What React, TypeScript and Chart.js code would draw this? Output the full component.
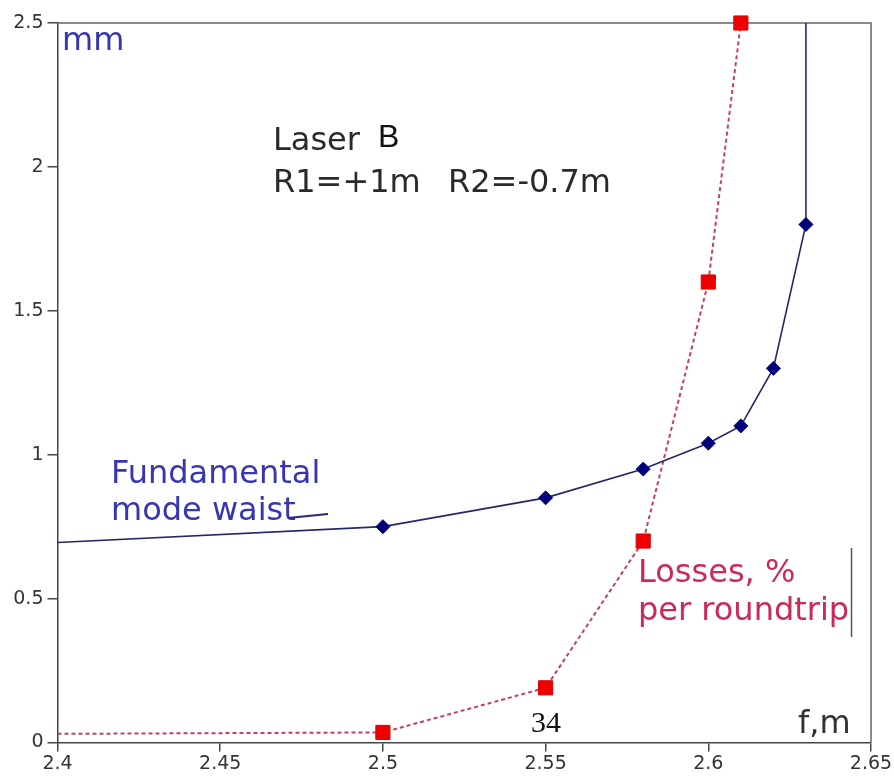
import React, { useEffect, useRef } from "react";
import { Chart, registerables } from "chart.js";

Chart.register(...registerables);

// Focal length f, m
const waistF = [2.4, 2.5, 2.55, 2.58, 2.6, 2.61, 2.62, 2.63, 2.63];
// Fundamental mode waist, mm
const waistMm = [0.695, 0.75, 0.85, 0.95, 1.04, 1.1, 1.3, 1.8, 2.5];
const waistMarker = [false, true, true, true, true, true, true, true, false];

const lossF = [2.4, 2.5, 2.55, 2.58, 2.6, 2.61];
// Losses, % per roundtrip
const lossPct = [0.03, 0.035, 0.19, 0.7, 1.6, 2.5];
const lossMarker = [false, true, true, true, true, true];

const xTicks = [2.4, 2.45, 2.5, 2.55, 2.6, 2.65];
const yTicks = [0, 0.5, 1, 1.5, 2, 2.5];

const SANS = "'DejaVu Sans', sans-serif";

const overlayPlugin = {
  id: "overlay",
  beforeDatasetsDraw(chart: any) {
    const { ctx, chartArea } = chart;
    ctx.save();
    ctx.strokeStyle = "#666";
    ctx.lineWidth = 1.5;
    ctx.beginPath();
    ctx.moveTo(chartArea.left, chartArea.top);
    ctx.lineTo(chartArea.right, chartArea.top);
    ctx.lineTo(chartArea.right, chartArea.bottom);
    ctx.stroke();
    ctx.restore();
  },
  afterDraw(chart: any) {
    const { ctx } = chart;
    ctx.save();
    ctx.textBaseline = "alphabetic";
    ctx.textAlign = "left";
    const t = (s: string, x: number, y: number, font: string, color: string) => {
      ctx.font = font;
      ctx.fillStyle = color;
      ctx.fillText(s, x, y);
    };
    const blue = "#3636b4";
    const crimson = "#cc2a55";
    t("mm", 62, 50, `32px ${SANS}`, blue);
    t("Laser", 273, 150, `32px ${SANS}`, "#2a2a2a");
    t("B", 378, 147, "32px 'Liberation Sans', sans-serif", "#111");
    t("R1=+1m", 273, 192, `32px ${SANS}`, "#2a2a2a");
    t("R2=-0.7m", 448, 192, `32px ${SANS}`, "#2a2a2a");
    t("Fundamental", 111, 483, `32px ${SANS}`, blue);
    t("mode waist", 111, 520, `32px ${SANS}`, blue);
    t("Losses, %", 638, 582, `32px ${SANS}`, crimson);
    t("per roundtrip", 638, 620, `32px ${SANS}`, crimson);
    t("34", 531, 732, "30px 'Liberation Serif', serif", "#111");
    t("f,m", 798, 733, `32px ${SANS}`, "#333");
    // underline stroke after "waist"
    ctx.strokeStyle = "#2a2a70";
    ctx.lineWidth = 2;
    ctx.beginPath();
    ctx.moveTo(288, 518);
    ctx.lineTo(328, 514);
    ctx.stroke();
    // vertical bar beside "roundtrip"
    ctx.strokeStyle = "#555";
    ctx.lineWidth = 1.5;
    ctx.beginPath();
    ctx.moveTo(851.5, 548);
    ctx.lineTo(851.5, 637);
    ctx.stroke();
    ctx.restore();
  },
};

export default function App() {
  const ref = useRef<HTMLCanvasElement | null>(null);
  useEffect(() => {
    if (!ref.current) return;
    const chart = new Chart(ref.current, {
      type: "scatter",
      data: {
        datasets: [
          {
            label: "Losses, % per roundtrip",
            data: lossF.map((x, i) => ({ x, y: lossPct[i] })),
            showLine: true,
            borderColor: "#c8405a",
            borderWidth: 2,
            borderDash: [4, 3],
            pointStyle: "rect",
            pointRadius: lossMarker.map((m) => (m ? 10 : 0)),
            pointBackgroundColor: "#ee0000",
            pointBorderColor: "#dd0000",
            pointBorderWidth: 1,
            clip: false as any,
            order: 1,
          },
          {
            label: "Fundamental mode waist",
            data: waistF.map((x, i) => ({ x, y: waistMm[i] })),
            showLine: true,
            borderColor: "#24276a",
            borderWidth: 1.6,
            pointStyle: "rectRot",
            pointRadius: waistMarker.map((m) => (m ? 7 : 0)),
            pointBackgroundColor: "#00007a",
            pointBorderColor: "#00007a",
            pointBorderWidth: 1,
            clip: false as any,
            order: 0,
          },
        ],
      },
      options: {
        responsive: false,
        animation: false,
        devicePixelRatio: 1,
        layout: { padding: { top: 23, right: 23, left: 0, bottom: 0 } },
        plugins: {
          legend: { display: false },
          tooltip: { enabled: false },
        },
        scales: {
          x: {
            type: "linear",
            min: 2.4,
            max: 2.65,
            afterBuildTicks: (scale: any) => {
              scale.ticks = xTicks.map((v) => ({ value: v }));
            },
            afterFit: (scale: any) => {
              scale.height = 37.5;
            },
            ticks: {
              callback: (v: any) => String(Number(Number(v).toFixed(2))),
              font: { family: SANS, size: 19 },
              color: "#333",
              padding: 1,
              maxRotation: 0,
              autoSkip: false,
            },
            grid: {
              display: true,
              drawOnChartArea: false,
              drawTicks: true,
              tickLength: 9,
              color: "#444",
              lineWidth: 1.5,
            },
            border: { display: true, color: "#444", width: 1.5 },
          },
          y: {
            type: "linear",
            min: 0,
            max: 2.5,
            afterBuildTicks: (scale: any) => {
              scale.ticks = yTicks.map((v) => ({ value: v }));
            },
            afterFit: (scale: any) => {
              scale.width = 57.5;
            },
            ticks: {
              callback: (v: any) => String(Number(Number(v).toFixed(2))),
              font: { family: SANS, size: 19 },
              color: "#333",
              padding: 4,
              autoSkip: false,
            },
            grid: {
              display: true,
              drawOnChartArea: false,
              drawTicks: true,
              tickLength: 10,
              color: "#444",
              lineWidth: 1.5,
            },
            border: { display: true, color: "#444", width: 1.5 },
          },
        },
      },
      plugins: [overlayPlugin],
    });
    return () => chart.destroy();
  }, []);
  return (
    <div style={{ position: "absolute", left: 0, top: 0, width: 894, height: 780, background: "#fff" }}>
      <canvas ref={ref} width={894} height={780} style={{ display: "block", width: 894, height: 780 }} />
    </div>
  );
}
